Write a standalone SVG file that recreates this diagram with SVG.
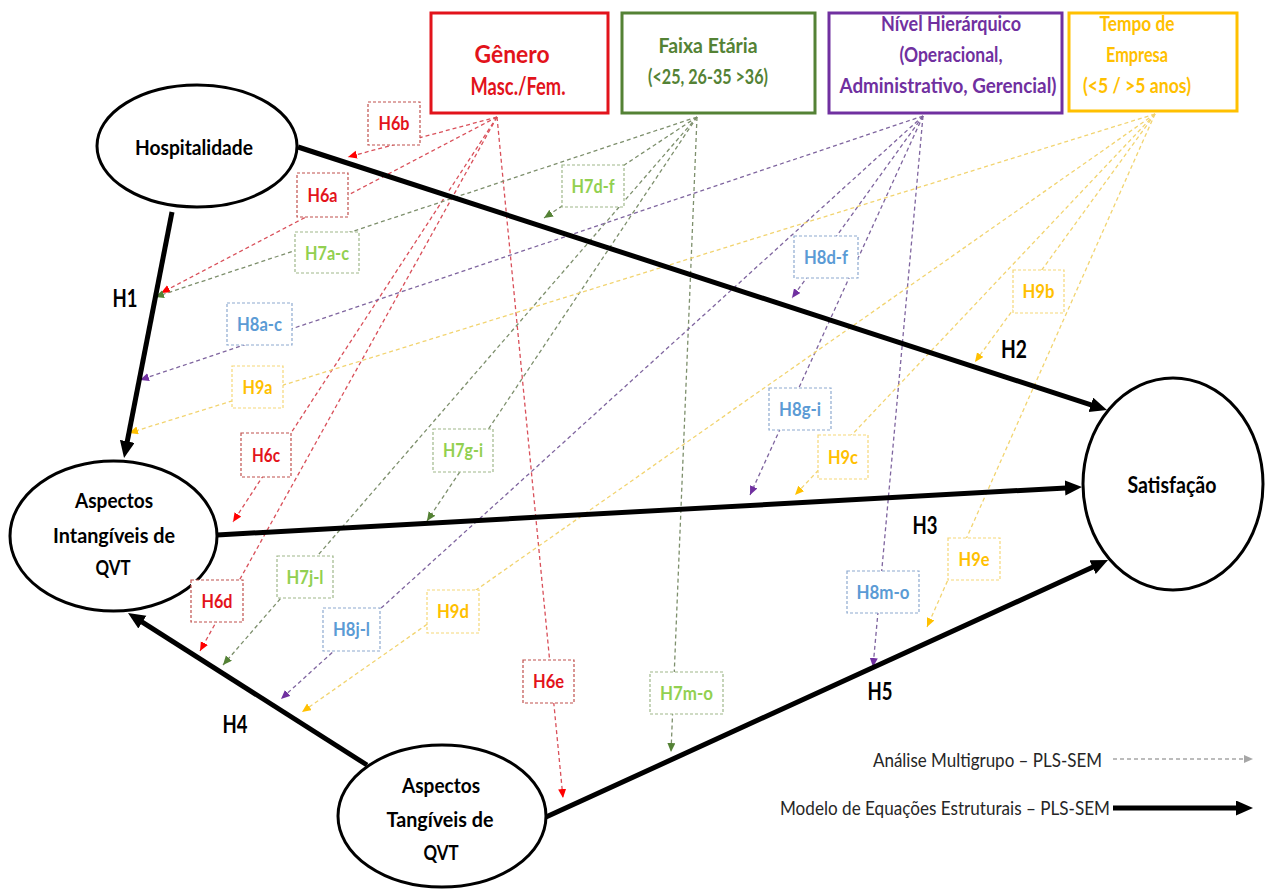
<svg xmlns="http://www.w3.org/2000/svg" width="1268" height="891" viewBox="0 0 1268 891">
<style>
.t{font-family:Lato,'Liberation Sans',sans-serif;font-weight:700;text-anchor:middle}
.mod rect{fill:#fff;stroke-width:3}
.lbl rect{fill:#fff;stroke-width:1.2;stroke-dasharray:3 2}
.lbl text{font-size:19px}
.ell ellipse{fill:#fff;stroke:#000;stroke-width:3}
.ell text{font-size:21px;fill:#000}
.dl{fill:none;stroke-width:1.3;stroke-dasharray:4 3}
.r{stroke:#d9505a;marker-end:url(#mR)}
.g{stroke:#7d8f6c;marker-end:url(#mG)}
.p{stroke:#7f659f;marker-end:url(#mP)}
.y{stroke:#f2d470;marker-end:url(#mY)}
.thick{fill:none;stroke:#000;stroke-width:5;marker-end:url(#mK)}
.h{font-size:24px;fill:#000}
.h6 rect{stroke:#c0504d}.h6 text{fill:#e3131b}
.h7 rect{stroke:#9fb88a}.h7 text{fill:#92d050}
.h8 rect{stroke:#8eaad0}.h8 text{fill:#5b9bd5}
.h9 rect{stroke:#f5d878}.h9 text{fill:#ffc000}
.leg{font-family:Lato,'Liberation Sans',sans-serif;font-size:19px;fill:#262626;text-anchor:end}
</style>
<defs>
<marker id="mR" markerUnits="userSpaceOnUse" markerWidth="10" markerHeight="10" refX="9" refY="4" orient="auto"><path d="M0,0 L9,4 L0,8 Z" fill="#ff0000"/></marker>
<marker id="mG" markerUnits="userSpaceOnUse" markerWidth="10" markerHeight="10" refX="9" refY="4" orient="auto"><path d="M0,0 L9,4 L0,8 Z" fill="#548235"/></marker>
<marker id="mP" markerUnits="userSpaceOnUse" markerWidth="10" markerHeight="10" refX="9" refY="4" orient="auto"><path d="M0,0 L9,4 L0,8 Z" fill="#7030a0"/></marker>
<marker id="mY" markerUnits="userSpaceOnUse" markerWidth="10" markerHeight="10" refX="9" refY="4" orient="auto"><path d="M0,0 L9,4 L0,8 Z" fill="#ffc000"/></marker>
<marker id="mGr" markerUnits="userSpaceOnUse" markerWidth="10" markerHeight="10" refX="9" refY="4" orient="auto"><path d="M0,0 L9,4 L0,8 Z" fill="#a6a6a6"/></marker>
<marker id="mK" markerUnits="userSpaceOnUse" markerWidth="18" markerHeight="16" refX="1" refY="7.5" orient="auto"><path d="M0,0 L17,7.5 L0,15 Z" fill="#000"/></marker>
</defs>
<rect width="1268" height="891" fill="#fff"/>

<g id="connectors">
<line class="dl r" x1="497" y1="117" x2="348" y2="157"/>
<line class="dl r" x1="497" y1="117" x2="161" y2="293"/>
<line class="dl r" x1="497" y1="117" x2="233" y2="522"/>
<line class="dl r" x1="497" y1="117" x2="200" y2="651"/>
<line class="dl r" x1="497" y1="117" x2="563" y2="798"/>
<line class="dl g" x1="697" y1="117" x2="155" y2="297"/>
<line class="dl g" x1="697" y1="117" x2="544" y2="218"/>
<line class="dl g" x1="697" y1="117" x2="427" y2="521"/>
<line class="dl g" x1="697" y1="117" x2="223" y2="665"/>
<line class="dl g" x1="697" y1="117" x2="671" y2="752"/>
<line class="dl p" x1="923" y1="116" x2="140" y2="380"/>
<line class="dl p" x1="923" y1="116" x2="792" y2="298"/>
<line class="dl p" x1="923" y1="116" x2="750" y2="495"/>
<line class="dl p" x1="923" y1="116" x2="281" y2="699"/>
<line class="dl p" x1="923" y1="116" x2="873" y2="667"/>
<line class="dl y" x1="1155" y1="114" x2="129" y2="433"/>
<line class="dl y" x1="1155" y1="114" x2="975" y2="362"/>
<line class="dl y" x1="1155" y1="114" x2="795" y2="495"/>
<line class="dl y" x1="1155" y1="114" x2="302" y2="712"/>
<line class="dl y" x1="1155" y1="114" x2="927" y2="627"/>
<line class="thick" x1="172" y1="212" x2="127.1" y2="442.3"/>
<line class="thick" x1="298" y1="147" x2="1091.8" y2="405.1"/>
<line class="thick" x1="217" y1="535" x2="1066" y2="487.9"/>
<line class="thick" x1="367" y1="765" x2="141.5" y2="621.6"/>
<line class="thick" x1="546" y1="817" x2="1093.5" y2="566.7"/>
<line x1="1113" y1="759" x2="1253" y2="759" fill="none" stroke="#a6a6a6" stroke-width="1.3" stroke-dasharray="4 3" marker-end="url(#mGr)"/>
<line class="thick" x1="1113" y1="808" x2="1237" y2="808"/>
</g>

<g id="edge-labels" class="t">
<text class="h" x="125" y="307" textLength="25" lengthAdjust="spacingAndGlyphs">H1</text>
<text class="h" x="1014" y="358" textLength="26" lengthAdjust="spacingAndGlyphs">H2</text>
<text class="h" x="925" y="534" textLength="25" lengthAdjust="spacingAndGlyphs">H3</text>
<text class="h" x="235" y="733" textLength="25" lengthAdjust="spacingAndGlyphs">H4</text>
<text class="h" x="880" y="700" textLength="25" lengthAdjust="spacingAndGlyphs">H5</text>
</g>

<g class="ell t">
<g id="hospitalidade"><ellipse cx="197" cy="146" rx="100" ry="61"/><text x="194" y="155" textLength="118" lengthAdjust="spacingAndGlyphs">Hospitalidade</text></g>
<g id="intangiveis"><ellipse cx="113.5" cy="536" rx="103.5" ry="75"/>
<text x="114" y="508" textLength="78" lengthAdjust="spacingAndGlyphs">Aspectos</text>
<text x="114" y="543" textLength="122" lengthAdjust="spacingAndGlyphs">Intangíveis de</text>
<text x="113" y="575" textLength="35" lengthAdjust="spacingAndGlyphs">QVT</text></g>
<g id="tangiveis"><ellipse cx="442" cy="816" rx="104" ry="71"/>
<text x="441" y="793" textLength="78" lengthAdjust="spacingAndGlyphs">Aspectos</text>
<text x="440" y="827" textLength="107" lengthAdjust="spacingAndGlyphs">Tangíveis de</text>
<text x="441" y="860" textLength="35" lengthAdjust="spacingAndGlyphs">QVT</text></g>
<g id="satisfacao"><ellipse cx="1173" cy="484" rx="90" ry="106"/><text x="1172" y="493" textLength="89" lengthAdjust="spacingAndGlyphs" style="font-size:22px">Satisfação</text></g>
</g>

<g class="mod t">
<g id="genero"><rect x="431" y="13" width="177" height="100" stroke="#e2131b"/>
<text x="512" y="63" fill="#e2131b" font-size="24" textLength="75" lengthAdjust="spacingAndGlyphs">Gênero</text>
<text x="518" y="95" fill="#e2131b" font-size="24" textLength="95" lengthAdjust="spacingAndGlyphs">Masc./Fem.</text></g>
<g id="faixa"><rect x="622" y="13" width="193" height="100" stroke="#548235"/>
<text x="708" y="53" fill="#548235" font-size="20" textLength="99" lengthAdjust="spacingAndGlyphs">Faixa Etária</text>
<text x="708" y="84" fill="#548235" font-size="20" textLength="120" lengthAdjust="spacingAndGlyphs">(&lt;25, 26-35 &gt;36)</text></g>
<g id="nivel"><rect x="829" y="13" width="233" height="100" stroke="#7030a0"/>
<text x="951" y="31" fill="#7030a0" font-size="20" textLength="140" lengthAdjust="spacingAndGlyphs">Nível Hierárquico</text>
<text x="951" y="62" fill="#7030a0" font-size="20" textLength="103" lengthAdjust="spacingAndGlyphs">(Operacional,</text>
<text x="948" y="93" fill="#7030a0" font-size="20" textLength="217" lengthAdjust="spacingAndGlyphs">Administrativo, Gerencial)</text></g>
<g id="tempo"><rect x="1069" y="13" width="168" height="98" stroke="#ffc000"/>
<text x="1137" y="31" fill="#ffc000" font-size="20" textLength="75" lengthAdjust="spacingAndGlyphs">Tempo de</text>
<text x="1137" y="62" fill="#ffc000" font-size="20" textLength="62" lengthAdjust="spacingAndGlyphs">Empresa</text>
<text x="1137" y="93" fill="#ffc000" font-size="20" textLength="108" lengthAdjust="spacingAndGlyphs">(&lt;5 / &gt;5 anos)</text></g>
</g>

<g class="lbl t">
<g id="H6b" class="h6"><rect x="368" y="102" width="52" height="43"/><text x="394" y="130" textLength="31" lengthAdjust="spacingAndGlyphs">H6b</text></g>
<g id="H6a" class="h6"><rect x="297" y="173" width="51" height="44"/><text x="322.5" y="202" textLength="30" lengthAdjust="spacingAndGlyphs">H6a</text></g>
<g id="H6c" class="h6"><rect x="241" y="433" width="50" height="44"/><text x="266" y="462" textLength="28" lengthAdjust="spacingAndGlyphs">H6c</text></g>
<g id="H6d" class="h6"><rect x="191" y="580" width="52" height="42"/><text x="217" y="608" textLength="31" lengthAdjust="spacingAndGlyphs">H6d</text></g>
<g id="H6e" class="h6"><rect x="523" y="660" width="51" height="43"/><text x="548.5" y="688" textLength="31" lengthAdjust="spacingAndGlyphs">H6e</text></g>
<g id="H7a-c" class="h7"><rect x="295" y="232" width="64" height="41"/><text x="327" y="259.5" textLength="44" lengthAdjust="spacingAndGlyphs">H7a-c</text></g>
<g id="H7d-f" class="h7"><rect x="562" y="165" width="62" height="42"/><text x="593" y="193" textLength="43" lengthAdjust="spacingAndGlyphs">H7d-f</text></g>
<g id="H7g-i" class="h7"><rect x="433" y="429" width="60" height="43"/><text x="463" y="457" textLength="40" lengthAdjust="spacingAndGlyphs">H7g-i</text></g>
<g id="H7j-l" class="h7"><rect x="277" y="556" width="56" height="42"/><text x="305" y="584" textLength="37" lengthAdjust="spacingAndGlyphs">H7j-l</text></g>
<g id="H7m-o" class="h7"><rect x="650" y="672" width="73" height="42"/><text x="686.5" y="700" textLength="53" lengthAdjust="spacingAndGlyphs">H7m-o</text></g>
<g id="H8a-c" class="h8"><rect x="227" y="303" width="65" height="42"/><text x="259.5" y="331" textLength="45" lengthAdjust="spacingAndGlyphs">H8a-c</text></g>
<g id="H8d-f" class="h8"><rect x="794" y="236" width="64" height="42"/><text x="826" y="264" textLength="44" lengthAdjust="spacingAndGlyphs">H8d-f</text></g>
<g id="H8g-i" class="h8"><rect x="769" y="388" width="62" height="42"/><text x="800" y="416" textLength="42" lengthAdjust="spacingAndGlyphs">H8g-i</text></g>
<g id="H8j-l" class="h8"><rect x="323" y="608" width="57" height="43"/><text x="351.5" y="636" textLength="37" lengthAdjust="spacingAndGlyphs">H8j-l</text></g>
<g id="H8m-o" class="h8"><rect x="847" y="571" width="72" height="42"/><text x="883" y="599" textLength="53" lengthAdjust="spacingAndGlyphs">H8m-o</text></g>
<g id="H9a" class="h9"><rect x="232" y="366" width="51" height="42"/><text x="257.5" y="394" textLength="30" lengthAdjust="spacingAndGlyphs">H9a</text></g>
<g id="H9b" class="h9"><rect x="1013" y="270" width="51" height="43"/><text x="1038.5" y="298" textLength="32" lengthAdjust="spacingAndGlyphs">H9b</text></g>
<g id="H9c" class="h9"><rect x="818" y="435" width="50" height="44"/><text x="843" y="464" textLength="30" lengthAdjust="spacingAndGlyphs">H9c</text></g>
<g id="H9d" class="h9"><rect x="427" y="590" width="52" height="43"/><text x="453" y="618" textLength="32" lengthAdjust="spacingAndGlyphs">H9d</text></g>
<g id="H9e" class="h9"><rect x="948" y="538" width="52" height="42"/><text x="974" y="566" textLength="31" lengthAdjust="spacingAndGlyphs">H9e</text></g>
</g>

<g id="legend">
<text class="leg" x="1102" y="767" textLength="229" lengthAdjust="spacingAndGlyphs">Análise Multigrupo – PLS-SEM</text>
<text class="leg" x="1110" y="815" textLength="330" lengthAdjust="spacingAndGlyphs">Modelo de Equações Estruturais – PLS-SEM</text>
</g>
</svg>
